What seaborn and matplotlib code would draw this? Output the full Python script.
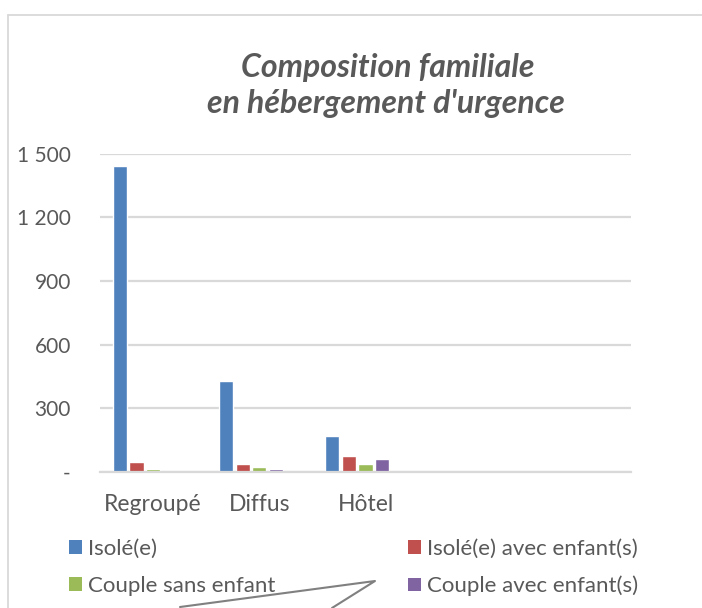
import matplotlib
matplotlib.use("Agg")
import matplotlib.pyplot as plt
from matplotlib.lines import Line2D
from matplotlib.patches import Patch
import seaborn as sns
import pandas as pd

categories = ["Regroupé", "Diffus", "Hôtel"]
series = ["Isolé(e)", "Isolé(e) avec enfant(s)", "Couple sans enfant",
          "Couple avec enfant(s)", "Autre"]
isole = [1440, 427, 170]
isole_enfants = [46, 36, 75]
couple_sans = [13, 22, 36]
couple_avec = [0, 13, 60]
autre = [0, 3, 5]
colors = ["#4F81BD", "#C0504D", "#9BBB59", "#8064A2", "#4BACC6"]
yticks = [0, 300, 600, 900, 1200, 1500]
ytick_labels = ["-", "300", "600", "900", "1 200", "1 500"]

rows = []
for s, vals in zip(series, [isole, isole_enfants, couple_sans, couple_avec, autre]):
    for c, v in zip(categories, vals):
        rows.append({"cat": c, "serie": s, "val": v})
df = pd.DataFrame(rows)

sns.set_theme(style="white")
plt.rcParams["font.family"] = ["Lato", "DejaVu Sans"]
txt = "#595959"

fig = plt.figure(figsize=(7.02, 6.08), dpi=100)
ax = fig.add_axes([100/702, 1-472/608, 531/702, (472-153.5)/608])

sns.barplot(data=df, x="cat", y="val", hue="serie", order=categories,
            hue_order=series, palette=colors, width=0.78, gap=0.14,
            saturation=1, ax=ax, legend=False, errorbar=None)

ax.set_xlim(-0.5, 4.5)
ax.set_ylim(0, 1500)
ax.set_yticks(yticks)
ax.set_yticklabels(ytick_labels)
ax.set_xlabel("")
ax.set_ylabel("")
for sp in ["top", "right", "left"]:
    ax.spines[sp].set_visible(False)
ax.spines["bottom"].set_color("#D9D9D9")
ax.spines["bottom"].set_linewidth(1.6)
ax.yaxis.grid(True, color="#D9D9D9", linewidth=1.6)
ax.set_axisbelow(True)
ax.tick_params(axis="y", length=0, pad=21, labelsize=15, labelcolor=txt)
ax.tick_params(axis="x", length=0, pad=16, labelsize=16.5, labelcolor=txt)

fig.text(388/702, 1-67/608, "Composition familiale", ha="center", va="center",
         fontsize=23, fontweight="bold", style="italic", color=txt)
fig.text(386/702, 1-103/608, "en hébergement d'urgence", ha="center", va="center",
         fontsize=23, fontweight="bold", style="italic", color=txt)

def handles(idx):
    return [Patch(facecolor=colors[i], edgecolor="none", label=series[i]) for i in idx]

for idx, x in [([0, 2], 69/702), ([1, 3], 408/702)]:
    h = handles(idx)
    fig.legend(handles=h, labels=[p.get_label() for p in h], loc="upper left",
               bbox_to_anchor=(x, 1-539/608), frameon=False, fontsize=16,
               handlelength=0.58, handleheight=0.58, handletextpad=0.28,
               labelspacing=0.75, labelcolor=txt, borderaxespad=0, borderpad=0)

# chart frame
fig.add_artist(Line2D([8/702, 8/702], [0, 1-15/608], color="#D9D9D9", lw=1.3,
                      transform=fig.transFigure))
fig.add_artist(Line2D([8/702, 1], [1-15/608, 1-15/608], color="#D9D9D9", lw=1.3,
                      transform=fig.transFigure))
# connector lines
fig.add_artist(Line2D([180/702, 375/702, 332/702], [1-607/608, 1-581/608, 1-608/608],
                      color="#808080", lw=1.5, transform=fig.transFigure))

fig.savefig("out.png", dpi=100, facecolor="white")
